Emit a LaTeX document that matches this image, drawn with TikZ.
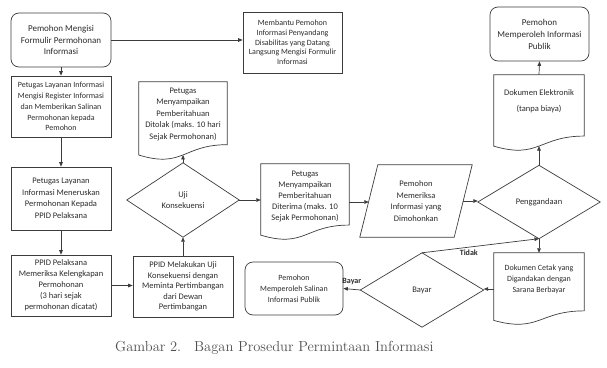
\documentclass[tikz,border=0pt]{standalone}
\usepackage{fontspec}
\newfontfamily\carl{Carlito}
\usetikzlibrary{arrows.meta,calc}
\definecolor{ln}{HTML}{3C3C3C}
\definecolor{tx}{HTML}{2B2B2B}
\definecolor{capc}{HTML}{505050}
\newcommand\drawdiamond[1]{\draw[line] (#1.north) -- (#1.east) -- (#1.south) -- (#1.west) -- cycle;}
\newcommand\drawdoc[1]{\draw[line] (#1.north west) -- (#1.north east) -- ($(#1.north east)!0.802!(#1.south east)$) .. controls ($(#1.north)!0.802!(#1.south)$) and ($(#1.north)!1.107!(#1.south)$) .. ($(#1.north west)!0.934!(#1.south west)$) -- cycle;
\coordinate (#1-b) at ($(#1.north)!0.933!(#1.south)$);}
\begin{document}
\begin{tikzpicture}[x=1pt,y=-1pt,
  line/.style={draw=ln, line width=0.7pt},
  arr/.style={draw=ln, line width=0.7pt, -{Triangle[length=4.5pt,width=3.6pt]}},
  fnt/.style={font=\carl\fontsize{#1}{#1*1.27}\selectfont},
  box/.style={draw=ln, line width=0.7pt, rectangle, inner sep=0pt, align=center, text=tx},
  rbox/.style={box, rounded corners=8pt},
  ghost/.style={rectangle, inner sep=0pt, draw=none, align=center, text=tx},
  txt/.style={inner sep=0pt, align=center, text=tx},
  lbl/.style={inner sep=1pt, text=tx, font=\carl\bfseries\fontsize{8}{10}\selectfont}
]
\useasboundingbox (0,0) rectangle (607,367);

% left column
\node[rbox, minimum width=100pt, minimum height=54pt, font=\carl\fontsize{9}{11.7}\selectfont] (n1) at (61,40) {Pemohon Mengisi\\Formulir Permohonan\\Informasi};
\node[box, minimum width=99pt, minimum height=61pt, font=\carl\fontsize{8}{9.7}\selectfont] (memb) at (292.5,42.5) {Membantu Pemohon\\Informasi Penyandang\\Disabilitas yang Datang\\Langsung Mengisi Formulir\\Informasi};
\node[box, minimum width=100pt, minimum height=61pt, font=\carl\fontsize{8}{10.8}\selectfont] (n2) at (61,106.5) {Petugas Layanan Informasi\\Mengisi Register Informasi\\dan Memberikan Salinan\\Permohonan kepada\\Pemohon};
\node[box, minimum width=100pt, minimum height=63pt, font=\carl\fontsize{8.5}{11.5}\selectfont] (n3) at (61,198.5) {Petugas Layanan\\Informasi Meneruskan\\Permohonan Kepada\\PPID Pelaksana};
\node[box, minimum width=100pt, minimum height=61pt, font=\carl\fontsize{8.5}{10.9}\selectfont] (n4) at (61,285.5) {PPID Pelaksana\\Memeriksa Kelengkapan\\Permohonan\\(3 hari sejak\\permohonan dicatat)};
\node[box, minimum width=100pt, minimum height=61pt, font=\carl\fontsize{8.5}{10.4}\selectfont] (n5) at (183,286.5) {PPID Melakukan Uji\\Konsekuensi dengan\\Meminta Pertimbangan\\dari Dewan\\Pertimbangan};

% uji konsekuensi
\node[ghost, minimum width=112pt, minimum height=74pt, font=\carl\fontsize{8.5}{11}\selectfont] (uji) at (183,200) {Uji\\Konsekuensi};
\drawdiamond{uji}

% ditolak document
\node[ghost, minimum width=88pt, minimum height=78pt] (ditolak) at (183,121) {};
\node[txt, font=\carl\fontsize{8.5}{11.5}\selectfont] (ditolakt) at ($(ditolak)+(0,-7)$) {Petugas\\Menyampaikan\\Pemberitahuan\\Ditolak (maks. 10 hari\\Sejak Permohonan)};
\drawdoc{ditolak}

% diterima document
\node[ghost, minimum width=88pt, minimum height=76pt] (diterima) at (305,202) {};
\node[txt, font=\carl\fontsize{8.5}{10.8}\selectfont] (diterimat) at ($(diterima)+(0,-5.5)$) {Petugas\\Menyampaikan\\Pemberitahuan\\Diterima (maks. 10\\Sejak Permohonan)};
\drawdoc{diterima}

% parallelogram
\node[ghost, minimum width=94pt, minimum height=72pt, font=\carl\fontsize{8.5}{11.4}\selectfont] (par) at (416,201) {Pemohon\\Memeriksa\\Informasi yang\\Dimohonkan};
\draw[line] ($(par.north west)+(9,0)$) -- ($(par.north east)+(9,0)$) -- ($(par.south east)+(-9,0)$) -- ($(par.south west)+(-9,0)$) -- cycle;

% penggandaan
\node[ghost, minimum width=122pt, minimum height=73pt, font=\carl\fontsize{8.5}{11}\selectfont] (peng) at (539,202) {Penggandaan};
\drawdiamond{peng}

% elektronik document
\node[ghost, minimum width=90pt, minimum height=76pt] (elek) at (539,113) {};
\node[txt, font=\carl\fontsize{8.5}{11}\selectfont] (elekt) at ($(elek)+(0,-12)$) {Dokumen Elektronik\\[5pt](tanpa biaya)};
\drawdoc{elek}

% publik
\node[rbox, minimum width=99pt, minimum height=54pt, font=\carl\fontsize{9}{12}\selectfont] (pub) at (539.5,34) {Pemohon\\Memperoleh Informasi\\Publik};

% cetak document
\node[ghost, minimum width=90pt, minimum height=72pt] (cetak) at (539,289) {};
\node[txt, font=\carl\fontsize{8}{11}\selectfont] (cetakt) at ($(cetak)+(0,-10)$) {Dokumen Cetak yang\\Digandakan dengan\\Sarana Berbayar};
\drawdoc{cetak}

% bayar
\node[ghost, minimum width=123pt, minimum height=74pt, font=\carl\fontsize{8.5}{11}\selectfont] (bayar) at (422,290) {Bayar};
\drawdiamond{bayar}

% salinan
\node[rbox, minimum width=98pt, minimum height=53pt, font=\carl\fontsize{8}{11}\selectfont] (salin) at (294,288.5) {Pemohon\\Memperoleh Salinan\\Informasi Publik};

% connectors
\draw[arr] (n1.east) -- (n1.east -| memb.west);
\draw[arr] (n1.south) -- (n2.north);
\draw[arr] (n2.south) -- (n3.north);
\draw[arr] (n3.south) -- (n4.north);
\draw[arr] (n4.east) -- (n4.east -| n5.west);
\draw[arr] (n5.north) -- (uji.south);
\draw[arr] (uji.north) -- (ditolak-b);
\draw[arr] (uji.east) -- (uji.east -| diterima.west);
\draw[arr] (diterima.east) -- (diterima.east -| par.west);
\draw[arr] (par.east) -- (par.east -| peng.west);
\draw[arr] (peng.north) -- (elek-b);
\draw[arr] (elek.north) -- (pub.south);
\draw[arr] (peng.south) -- (cetak.north);
\draw[arr] (cetak.west) -- (cetak.west -| bayar.east);
\draw[arr] (bayar.north) -- node[lbl, pos=0.4, below=1pt] {Tidak} (peng.south);
\draw[arr] (bayar.west) -- node[lbl, above=3pt] {Bayar} (salin.east);

% caption
\node[anchor=base west, inner sep=0pt, text=capc, font=\fontsize{14.5}{17}\selectfont] (cap) at (115,351) {Gambar 2.\hspace{13pt}Bagan Prosedur Permintaan Informasi};
\end{tikzpicture}
\end{document}
